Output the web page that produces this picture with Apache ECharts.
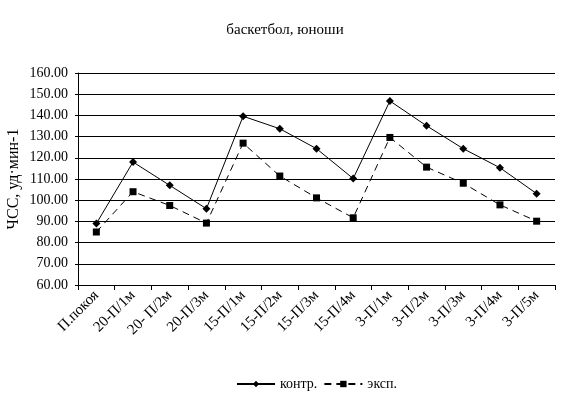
<!DOCTYPE html>
<html>
<head>
<meta charset="utf-8">
<script src="https://cdn.jsdelivr.net/npm/echarts@6/dist/echarts.min.js"></script>
<style>
html, body { margin: 0; padding: 0; background: #fff; }
#chart { width: 570px; height: 398px; }
</style>
</head>
<body>
<div id="chart"></div>
<script>
var categories = ['П.покоя', '20-П/1м', '20- П/2м', '20-П/3м', '15-П/1м', '15-П/2м', '15-П/3м',
    '15-П/4м', '3-П/1м', '3-П/2м', '3-П/3м', '3-П/4м', '3-П/5м'];
var kontr = [89, 118, 107, 96, 139.6, 133.7, 124.3, 110.2, 146.8, 135.1, 124.3, 115.3, 103.1];
var eksp = [85, 104, 97.5, 89.2, 126.9, 111.4, 101.1, 91.7, 129.6, 115.6, 108, 97.8, 90.1];

var font = '"Liberation Serif", "Times New Roman", serif';

var myChart = echarts.init(document.getElementById('chart'));
var option = {
    animation: false,
    title: {
        text: 'баскетбол, юноши',
        left: 'center',
        top: 18,
        textStyle: {
            fontFamily: font,
            fontSize: 15,
            fontWeight: 'normal',
            color: '#000'
        }
    },
    legend: {
        left: 231,
        top: 372,
        itemWidth: 38,
        itemHeight: 8,
        itemGap: 6,
        textStyle: {
            fontFamily: font,
            fontSize: 14,
            color: '#000'
        },
        data: ['контр.', 'эксп.']
    },
    grid: {
        left: 78,
        right: 15,
        top: 73,
        bottom: 113,
        containLabel: false,
        outerBoundsMode: 'none'
    },
    xAxis: {
        type: 'category',
        data: categories,
        boundaryGap: true,
        axisLine: { lineStyle: { color: '#000', width: 1 } },
        axisTick: { show: true, length: 5, lineStyle: { color: '#000' } },
        axisLabel: {
            rotate: 45,
            interval: 0,
            margin: 8,
            fontFamily: font,
            fontSize: 15,
            color: '#000'
        }
    },
    yAxis: {
        type: 'value',
        min: 60,
        max: 160,
        interval: 10,
        name: 'ЧСС, уд·мин-1',
        nameLocation: 'middle',
        nameGap: 56,
        nameMoveOverlap: false,
        nameTextStyle: {
            fontFamily: font,
            fontSize: 16,
            color: '#000'
        },
        axisLine: { show: true, lineStyle: { color: '#000', width: 1 } },
        axisTick: { show: true, length: 3, lineStyle: { color: '#000' } },
        splitLine: { show: true, lineStyle: { color: '#000', width: 1 } },
        axisLabel: {
            margin: 10,
            fontFamily: font,
            fontSize: 14,
            color: '#000',
            formatter: function (v) { return v.toFixed(2); }
        }
    },
    series: [
        {
            name: 'контр.',
            type: 'line',
            data: kontr,
            symbol: 'diamond',
            symbolSize: 8,
            itemStyle: { color: '#000' },
            lineStyle: { color: '#000', width: 1 }
        },
        {
            name: 'эксп.',
            type: 'line',
            data: eksp,
            symbol: 'rect',
            symbolSize: 7,
            itemStyle: { color: '#000' },
            lineStyle: { color: '#000', width: 1, type: [7, 5] }
        }
    ]
};
myChart.setOption(option);
</script>
</body>
</html>
